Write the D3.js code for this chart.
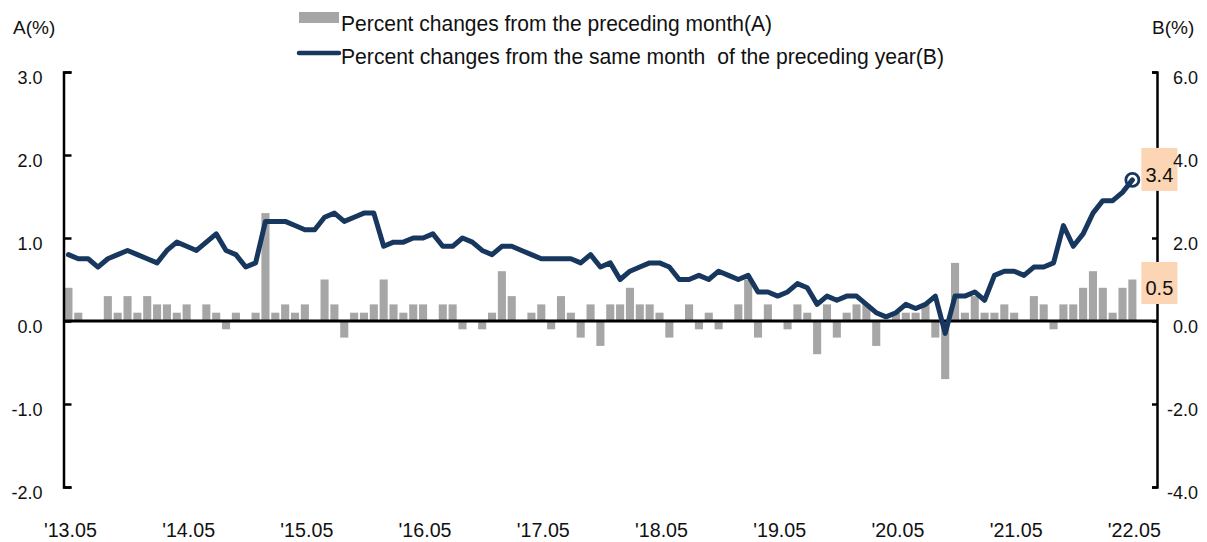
<!DOCTYPE html>
<html>
<head>
<meta charset="utf-8">
<script src="https://cdn.jsdelivr.net/npm/d3@7"></script>
<style>
  html, body { margin: 0; padding: 0; background: #fff; }
  svg { display: block; }
  text { font-family: "Liberation Sans", Arial, sans-serif; fill: #111; }
</style>
</head>
<body>
<svg id="chart" width="1207" height="542"></svg>
<script>
// ---- data (monthly, 2013.05 .. 2022.05) ----
const startYear = 2013, startMonth = 5;
const momA = [
  0.4, 0.1, 0.0, 0.0, 0.3, 0.1, 0.3, 0.1, 0.3, 0.2, 0.2, 0.1,
  0.2, 0.0, 0.2, 0.1, -0.1, 0.1, 0.0, 0.1, 1.3, 0.1, 0.2, 0.1,
  0.2, 0.0, 0.5, 0.2, -0.2, 0.1, 0.1, 0.2, 0.5, 0.2, 0.1, 0.2,
  0.2, 0.0, 0.2, 0.2, -0.1, 0.0, -0.1, 0.1, 0.6, 0.3, 0.0, 0.1,
  0.2, -0.1, 0.3, 0.1, -0.2, 0.2, -0.3, 0.2, 0.2, 0.4, 0.2, 0.2,
  0.1, -0.2, 0.0, 0.2, -0.1, 0.1, -0.1, 0.0, 0.2, 0.5, -0.2, 0.2,
  0.0, -0.1, 0.2, 0.1, -0.4, 0.2, -0.2, 0.1, 0.2, 0.2, -0.3, 0.0,
  0.1, 0.1, 0.1, 0.2, -0.2, -0.7, 0.7, 0.1, 0.3, 0.1, 0.1, 0.2,
  0.1, 0.0, 0.3, 0.2, -0.1, 0.2, 0.2, 0.4, 0.6, 0.4, 0.1, 0.4,
  0.5
];
const yoyB = [
  1.6, 1.5, 1.5, 1.3, 1.5, 1.6, 1.7, 1.6, 1.5, 1.4, 1.7, 1.9,
  1.8, 1.7, 1.9, 2.1, 1.7, 1.6, 1.3, 1.4, 2.4, 2.4, 2.4, 2.3,
  2.2, 2.2, 2.5, 2.6, 2.4, 2.5, 2.6, 2.6, 1.8, 1.9, 1.9, 2.0,
  2.0, 2.1, 1.8, 1.8, 2.0, 1.9, 1.7, 1.6, 1.8, 1.8, 1.7, 1.6,
  1.5, 1.5, 1.5, 1.5, 1.4, 1.6, 1.3, 1.4, 1.0, 1.2, 1.3, 1.4,
  1.4, 1.3, 1.0, 1.0, 1.1, 1.0, 1.2, 1.1, 1.0, 1.1, 0.7, 0.7,
  0.6, 0.7, 0.9, 0.8, 0.4, 0.6, 0.5, 0.6, 0.6, 0.4, 0.2, 0.1,
  0.2, 0.4, 0.3, 0.4, 0.6, -0.3, 0.6, 0.6, 0.7, 0.5, 1.1, 1.2,
  1.2, 1.1, 1.3, 1.3, 1.4, 2.3, 1.8, 2.1, 2.6, 2.9, 2.9, 3.1,
  3.4
];
const xTickLabels = ["'13.05","'14.05","'15.05","'16.05","'17.05","'18.05","'19.05","'20.05","'21.05","'22.05"];
const leftTicks = [3, 2, 1, 0, -1, -2];
const rightTicks = [6, 4, 2, 0, -2, -4];
const legendLabels = ["Percent changes from the preceding month(A)",
                      "Percent changes from the same month  of the preceding year(B)"];
const extraSlots = 2; // empty months after last data point on the axis

// ---- layout ----
const svg = d3.select("#chart");
const plotL = 63.5, plotR = 1157, plotT = 72, plotB = 487;
const barColor = "#A6A6A6", lineColor = "#17375E", boxColor = "#FCD5B4";
const fmt = v => d3.format(".1f")(v).replace("\u2212", "-");

const n = momA.length;
const slots = d3.range(n + extraSlots);
const x = d3.scaleBand().domain(slots).range([plotL, plotR]).paddingInner(0.18).paddingOuter(0.09);
const cx = i => x(i) + x.bandwidth() / 2;
const yA = d3.scaleLinear().domain([-2, 3]).range([plotB, plotT]);
const yB = d3.scaleLinear().domain([-4, 6]).range([plotB, plotT]);

// bars
svg.append("g").selectAll("rect").data(momA).join("rect")
  .attr("x", (d, i) => x(i))
  .attr("width", x.bandwidth())
  .attr("y", d => Math.min(yA(d), yA(0)))
  .attr("height", d => Math.abs(yA(d) - yA(0)))
  .attr("fill", barColor);

// zero line
svg.append("line")
  .attr("x1", plotL).attr("x2", plotR)
  .attr("y1", yA(0)).attr("y2", yA(0))
  .attr("stroke", "#000").attr("stroke-width", 3);

// line B
const line = d3.line().x((d, i) => cx(i)).y(d => yB(d));
svg.append("path").datum(yoyB)
  .attr("d", line)
  .attr("fill", "none")
  .attr("stroke", lineColor)
  .attr("stroke-width", 5)
  .attr("stroke-linejoin", "round")
  .attr("stroke-linecap", "round");

// end marker circle
svg.append("circle")
  .attr("cx", cx(n - 1)).attr("cy", yB(yoyB[n - 1]))
  .attr("r", 6.5)
  .attr("fill", "none")
  .attr("stroke", lineColor).attr("stroke-width", 2.8);

// axes
const axL = d3.axisLeft(yA).tickValues(leftTicks).tickFormat(fmt)
  .tickSizeInner(-8).tickSizeOuter(-8).tickPadding(21);
const gL = svg.append("g").attr("transform", `translate(${plotL},0)`).call(axL);
const axR = d3.axisRight(yB).tickValues(rightTicks).tickFormat(fmt)
  .tickSizeInner(-5).tickSizeOuter(-5).tickPadding(41);
const gR = svg.append("g").attr("transform", `translate(${plotR},0)`).call(axR);
gR.selectAll(".tick text").attr("text-anchor", "end");
[gL, gR].forEach(g => {
  g.select(".domain").attr("stroke", "#000").attr("stroke-width", 2.5);
  g.selectAll(".tick line").attr("stroke", "#000").attr("stroke-width", 2.5);
  g.selectAll(".tick text").attr("font-size", 18).attr("dy", "0.62em")
    .style("font-family", "'Liberation Sans', Arial, sans-serif").attr("fill", "#111");
});

// value boxes (drawn over the right axis line)
const lastX = cx(n - 1);
const boxes = [
  { v: yoyB[n - 1], y: yB(yoyB[n - 1]) - 32, h: 43, tb: yB(yoyB[n - 1]) + 2 },
  { v: momA[n - 1], y: yA(momA[n - 1]) - 17.5, h: 42, tb: yA(momA[n - 1]) + 15.5 }
];
boxes.forEach(b => {
  svg.append("rect").attr("x", lastX + 9).attr("y", b.y).attr("width", 36).attr("height", b.h)
    .attr("fill", boxColor);
  svg.append("text").attr("x", lastX + 27).attr("y", b.tb).attr("text-anchor", "middle")
    .attr("font-size", 20).text(fmt(b.v));
});

// right tick labels on top of the boxes
const topLabels = svg.append("g").attr("transform", `translate(${plotR},0)`);
gR.selectAll(".tick").each(function () {
  const t = d3.select(this);
  const holder = topLabels.append("g").attr("transform", t.attr("transform"));
  holder.node().appendChild(t.select("text").node());
});

// x labels
svg.append("g").selectAll("text").data(xTickLabels).join("text")
  .attr("x", (d, k) => cx(k * 12) + 2)
  .attr("y", 537)
  .attr("text-anchor", "middle")
  .attr("font-size", 20)
  .attr("textLength", 53)
  .attr("lengthAdjust", "spacingAndGlyphs")
  .text(d => d);

// axis titles
svg.append("text").attr("x", 13).attr("y", 34).attr("font-size", 19).text("A(%)");
svg.append("text").attr("x", 1152).attr("y", 34).attr("font-size", 19).text("B(%)");

// legend
const lg = svg.append("g");
lg.append("rect").attr("x", 299).attr("y", 12).attr("width", 40).attr("height", 11).attr("fill", barColor);
lg.append("line").attr("x1", 299).attr("x2", 339).attr("y1", 53).attr("y2", 53)
  .attr("stroke", lineColor).attr("stroke-width", 4.5).attr("stroke-linecap", "round");
lg.append("text").attr("x", 341).attr("y", 31).attr("font-size", 22)
  .attr("textLength", 431).attr("lengthAdjust", "spacingAndGlyphs").attr("fill", "#222")
  .text(legendLabels[0]);
lg.append("text").attr("x", 341).attr("y", 64).attr("font-size", 22)
  .attr("textLength", 603).attr("lengthAdjust", "spacingAndGlyphs").attr("fill", "#222")
  .style("white-space", "pre")
  .text(legendLabels[1]);
</script>
</body>
</html>
